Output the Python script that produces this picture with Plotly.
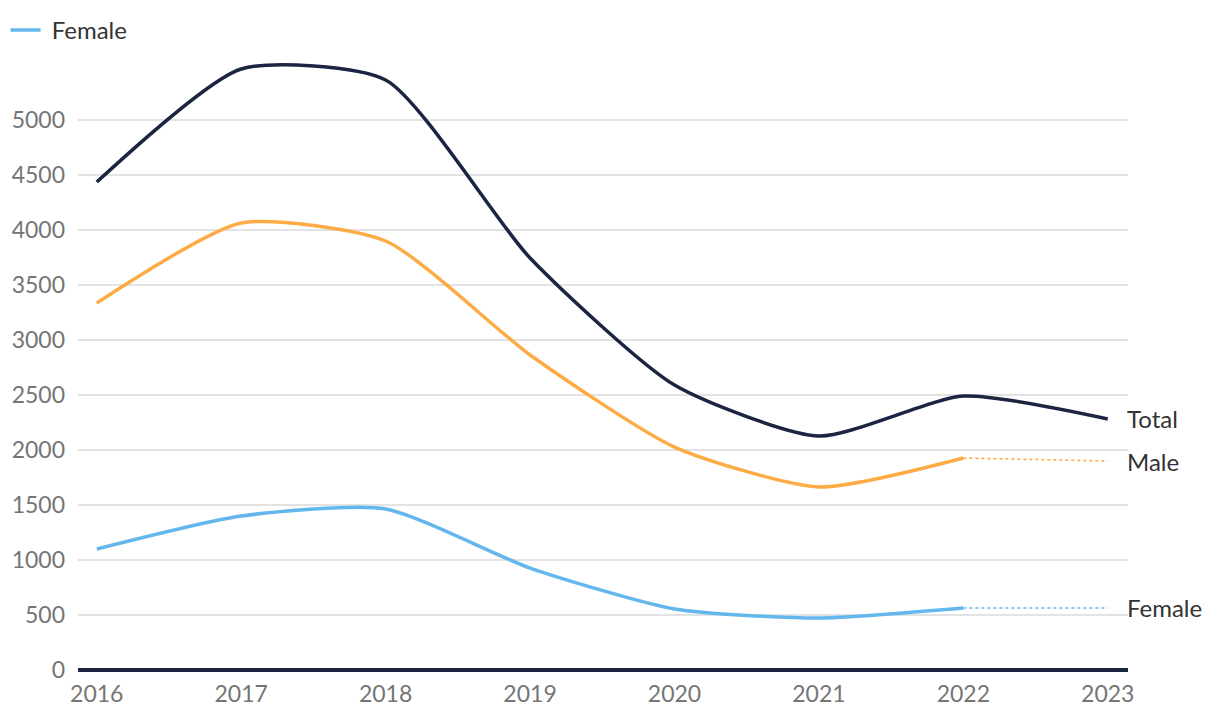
import plotly.graph_objects as go

years = [2016, 2017, 2018, 2019, 2020, 2021, 2022, 2023]
total = [4436, 5464, 5364, 3745, 2590, 2127, 2490, 2282]
male = [3336, 4064, 3900, 2864, 2027, 1664, 1927]
male_proj = [1927, 1900]
female = [1100, 1400, 1464, 927, 555, 473, 564]
female_proj = [564, 564]
proj_years = [2022, 2023]
yticks = [0, 500, 1000, 1500, 2000, 2500, 3000, 3500, 4000, 4500, 5000]

NAVY = "#1b2541"
ORANGE = "#fdab45"
BLUE = "#64b7ec"
FONT = "Lato"
SM = 0.62

fig = go.Figure()
fig.add_trace(go.Scatter(x=years, y=total, mode="lines", name="Total",
                         line=dict(color=NAVY, width=3.5, shape="spline", smoothing=SM),
                         showlegend=False))
fig.add_trace(go.Scatter(x=years[:7], y=male, mode="lines", name="Male",
                         line=dict(color=ORANGE, width=3.5, shape="spline", smoothing=SM),
                         showlegend=False))
fig.add_trace(go.Scatter(x=proj_years, y=male_proj, mode="lines", name="Male",
                         line=dict(color=ORANGE, width=1.6, dash="dot"), showlegend=False))
fig.add_trace(go.Scatter(x=years[:7], y=female, mode="lines", name="\u00a0Female",
                         line=dict(color=BLUE, width=3.5, shape="spline", smoothing=SM),
                         showlegend=True))
fig.add_trace(go.Scatter(x=proj_years, y=female_proj, mode="lines", name="Female",
                         line=dict(color=BLUE, width=1.6, dash="dot"), showlegend=False))

labels = [("Total", total[-1]), ("Male", male_proj[-1]), ("Female", female_proj[-1])]
for name, val in labels:
    fig.add_annotation(x=2023, y=val, text=name, showarrow=False, xanchor="left",
                       yanchor="middle", xshift=17, yshift=0,
                       font=dict(family=FONT, size=24, color="#333333"))

fig.update_layout(
    width=1220, height=724,
    margin=dict(l=70, r=100, t=24, b=62, autoexpand=False),
    plot_bgcolor="white", paper_bgcolor="white",
    font=dict(family=FONT),
    legend=dict(x=-0.069, y=1.0, xref="paper", yref="container", xanchor="left", yanchor="top",
                orientation="h", font=dict(family=FONT, size=24, color="#333333"),
                bgcolor="rgba(0,0,0,0)", tracegroupgap=0),
    xaxis=dict(range=[2015.87, 2023.14], tickvals=years, ticktext=[str(y) for y in years],
               showgrid=False, zeroline=False, showline=False, ticks="", automargin=False,
               ticklabelstandoff=8,
               tickfont=dict(family=FONT, size=23, color="#757575")),
    yaxis=dict(range=[0, 5800], tickvals=yticks, showgrid=True, gridcolor="#e3e3e3",
               gridwidth=1.5, zeroline=True, zerolinecolor=NAVY, zerolinewidth=4,
               showline=False, ticks="", ticklabelstandoff=12, automargin=False,
               tickfont=dict(family=FONT, size=23, color="#757575")),
)
fig.write_html("out.html")
